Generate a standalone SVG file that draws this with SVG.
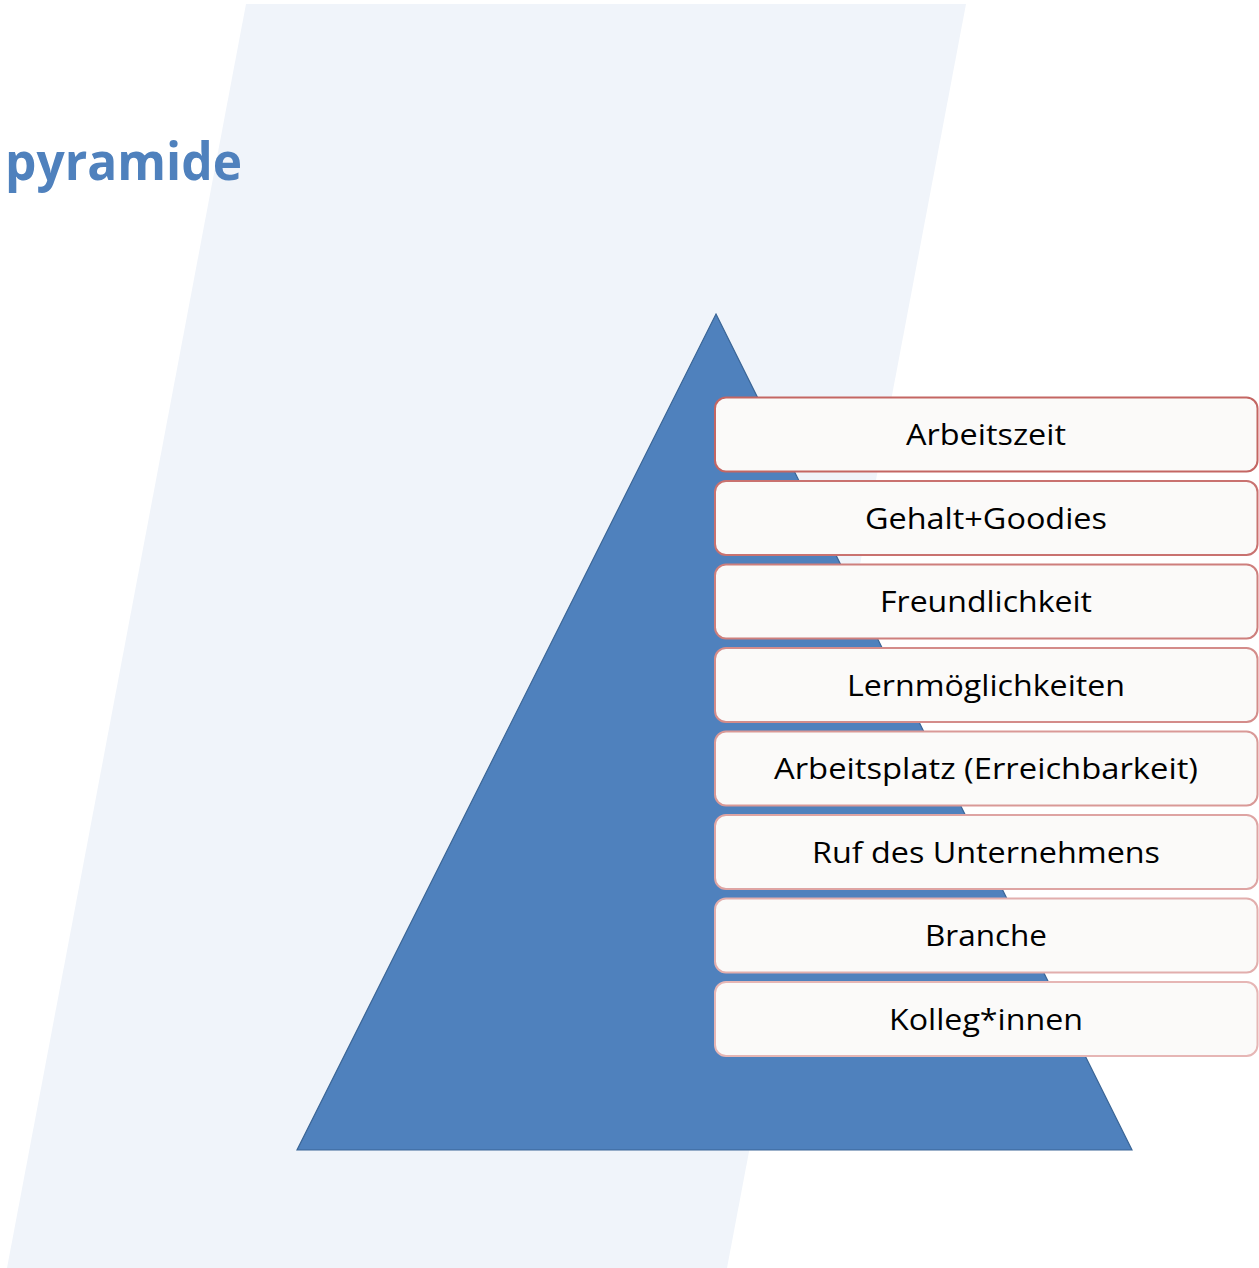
<svg xmlns="http://www.w3.org/2000/svg" width="1259" height="1268" viewBox="0 0 1259 1268">
<style>
.box{fill:#FBFAF9;stroke-width:2}
.lbl{font-family:"Open Sans","Liberation Sans",Arial,sans-serif;font-size:30px;fill:#000;text-anchor:middle}
.title{font-family:"Open Sans","Liberation Sans",Arial,sans-serif;font-size:52px;font-weight:bold;fill:#4F81BD}
</style>
<rect x="0" y="0" width="1259" height="1268" fill="#FFFFFF"/>
<polygon id="band" points="246,4 966,4 727,1268 7,1268" fill="#F0F4FA"/>
<text class="title" x="5" y="180" textLength="237" lengthAdjust="spacingAndGlyphs">pyramide</text>
<g id="pyramid">
<polygon points="716,314 1132,1150 297,1150" fill="#4F81BD" stroke="#3A6596" stroke-width="1.2"/>
</g>
<g id="connectors"></g>
<g id="n1"><rect class="box" x="715" y="397.5" width="542.5" height="74" rx="11" stroke="#C46663"/><text class="lbl" x="986" y="445" textLength="160" lengthAdjust="spacingAndGlyphs">Arbeitszeit</text></g>
<g id="n2"><rect class="box" x="715" y="481" width="542.5" height="74" rx="11" stroke="#C97270"/><text class="lbl" x="986" y="528.5" textLength="242" lengthAdjust="spacingAndGlyphs">Gehalt+Goodies</text></g>
<g id="n3"><rect class="box" x="715" y="564.5" width="542.5" height="74" rx="11" stroke="#CE7F7D"/><text class="lbl" x="986" y="612" textLength="212" lengthAdjust="spacingAndGlyphs">Freundlichkeit</text></g>
<g id="n4"><rect class="box" x="715" y="648" width="542.5" height="74" rx="11" stroke="#D48C8A"/><text class="lbl" x="986" y="695.5" textLength="278" lengthAdjust="spacingAndGlyphs">Lernmöglichkeiten</text></g>
<g id="n5"><rect class="box" x="715" y="731.5" width="542.5" height="74" rx="11" stroke="#D99997"/><text class="lbl" x="986" y="779" textLength="424" lengthAdjust="spacingAndGlyphs">Arbeitsplatz (Erreichbarkeit)</text></g>
<g id="n6"><rect class="box" x="715" y="815" width="542.5" height="74" rx="11" stroke="#DEA4A3"/><text class="lbl" x="986" y="862.5" textLength="348" lengthAdjust="spacingAndGlyphs">Ruf des Unternehmens</text></g>
<g id="n7"><rect class="box" x="715" y="898.5" width="542.5" height="74" rx="11" stroke="#E2AEAD"/><text class="lbl" x="986" y="946" textLength="122" lengthAdjust="spacingAndGlyphs">Branche</text></g>
<g id="n8"><rect class="box" x="715" y="982" width="542.5" height="74" rx="11" stroke="#E6B6B5"/><text class="lbl" x="986" y="1029.5" textLength="194" lengthAdjust="spacingAndGlyphs">Kolleg*innen</text></g>
</svg>
